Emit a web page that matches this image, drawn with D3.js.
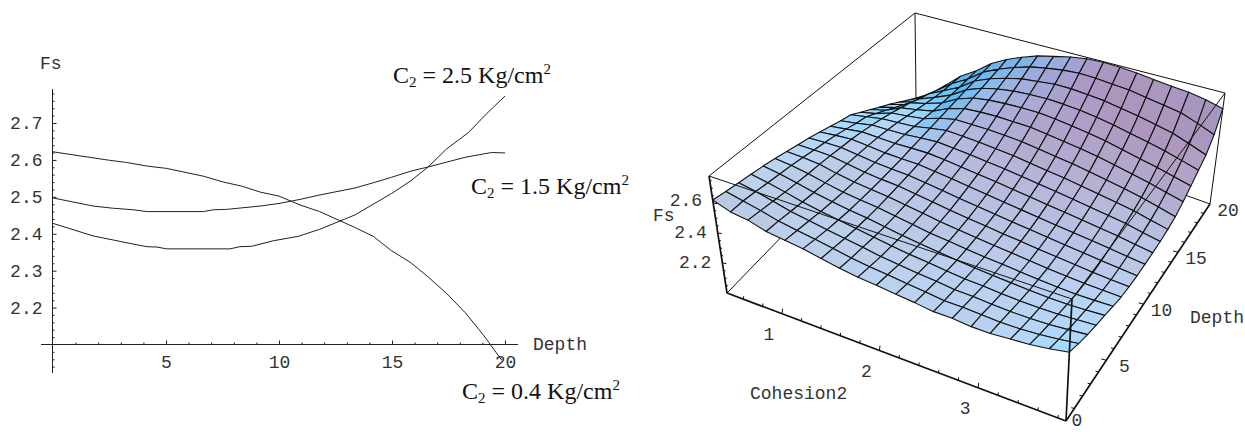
<!DOCTYPE html>
<html>
<head>
    <meta charset="utf-8">
    <title>Fs against depth and cohesion</title>
    <script src="https://cdnjs.cloudflare.com/ajax/libs/d3/7.8.5/d3.min.js"></script>
    <style>
        body { background: #fff; margin: 0; overflow: hidden; }
        svg { display: block; }
        .mono { font-family: "Liberation Mono", monospace; font-size: 18px; fill: #333; }
        .note { font-family: "Liberation Serif", serif; font-size: 24px; fill: #111; }
        .axis path, .axis line { stroke: #222; }
        .axis text { font-family: "Liberation Mono", monospace; font-size: 18px; fill: #333; }
        .curve { fill: none; stroke: #222; stroke-width: 1; }
        .cell { stroke: #111; stroke-width: 1.1; stroke-linejoin: round; }
        .edge { stroke: #111; stroke-width: 1; }
        .edge.heavy { stroke-width: 1.7; }
    </style>
</head>
<body>
<svg id="chart" width="1245" height="432"></svg>
<script>
// left plot: Fs vs depth, one curve per cohesion
const depth04 = [0, 0.75, 2.5, 3.26, 4.2, 5.03, 6.65, 7.54, 8.35, 9.16, 10, 10.93, 11.8, 13.36, 14.17, 14.98, 15.8, 16.6, 17.42, 18.23, 19.04, 19.85];
const fs04 = [2.622, 2.615, 2.599, 2.593, 2.583, 2.577, 2.556, 2.54, 2.529, 2.513, 2.502, 2.478, 2.46, 2.417, 2.393, 2.354, 2.323, 2.283, 2.238, 2.187, 2.126, 2.058];
const depth15 = [0, 1.78, 2.67, 3.55, 4.15, 6.65, 7.1, 7.68, 9.16, 10, 10.93, 11.8, 13.36, 14.17, 14.98, 15.8, 16.6, 17.42, 18.23, 19.04, 19.4, 20];
const fs15 = [2.497, 2.475, 2.469, 2.465, 2.46, 2.46, 2.465, 2.466, 2.475, 2.482, 2.493, 2.505, 2.524, 2.538, 2.553, 2.569, 2.581, 2.594, 2.607, 2.616, 2.62, 2.619];
const depth25 = [0, 1.78, 2.67, 3.55, 4.15, 4.6, 5.03, 7.83, 8.27, 8.79, 9.75, 10.85, 11.8, 13.36, 14.17, 14.98, 15.8, 16.6, 17.42, 18.38, 19.2, 20];
const fs25 = [2.428, 2.394, 2.383, 2.372, 2.365, 2.364, 2.359, 2.359, 2.365, 2.366, 2.381, 2.393, 2.412, 2.451, 2.48, 2.509, 2.542, 2.581, 2.63, 2.674, 2.726, 2.773];
const depthLabels = [5, 10, 15, 20];
const depthMinor = [1, 2, 3, 4, 6, 7, 8, 9, 11, 12, 13, 14, 16, 17, 18, 19];
const fsLabels = [2.2, 2.3, 2.4, 2.5, 2.6, 2.7];
const fsMinor = [2.04, 2.06, 2.08, 2.12, 2.14, 2.16, 2.18, 2.22, 2.24, 2.26, 2.28, 2.32, 2.34, 2.36, 2.38, 2.42, 2.44, 2.46, 2.48, 2.52, 2.54, 2.56, 2.58, 2.62, 2.64, 2.66, 2.68, 2.72, 2.74, 2.76, 2.78];

// right plot: surface samples, rows = cohesion, columns = depth
const cohesionGrid = [0.43, 0.61, 0.79, 0.97, 1.16, 1.34, 1.52, 1.70, 1.88, 2.06, 2.25, 2.43, 2.61, 2.79, 2.97, 3.15, 3.34, 3.52, 3.70, 3.88];
const depthGrid = [0, 1.05, 2.11, 3.16, 4.21, 5.26, 6.32, 7.37, 8.42, 9.47, 10.53, 11.58, 12.63, 13.68, 14.74, 15.79, 16.84, 17.89, 18.95, 20];
const fsGrid = [
    [2.62, 2.605, 2.593, 2.58, 2.567, 2.55, 2.53, 2.51, 2.49, 2.465, 2.437, 2.41, 2.386, 2.335, 2.284, 2.23, 2.18, 2.12, 2.06, 2.0],
    [2.58, 2.58, 2.572, 2.56, 2.55, 2.54, 2.525, 2.51, 2.495, 2.478, 2.455, 2.43, 2.41, 2.365, 2.32, 2.27, 2.22, 2.17, 2.13, 2.09],
    [2.565, 2.555, 2.545, 2.535, 2.527, 2.52, 2.515, 2.507, 2.497, 2.488, 2.473, 2.455, 2.435, 2.41, 2.38, 2.35, 2.31, 2.28, 2.24, 2.21],
    [2.53, 2.525, 2.515, 2.507, 2.50, 2.495, 2.49, 2.487, 2.482, 2.478, 2.47, 2.458, 2.445, 2.425, 2.405, 2.385, 2.365, 2.35, 2.34, 2.33],
    [2.515, 2.505, 2.495, 2.485, 2.478, 2.472, 2.47, 2.468, 2.467, 2.467, 2.466, 2.463, 2.455, 2.445, 2.435, 2.43, 2.425, 2.42, 2.42, 2.42],
    [2.50, 2.487, 2.475, 2.467, 2.46, 2.458, 2.457, 2.457, 2.46, 2.463, 2.47, 2.475, 2.48, 2.487, 2.493, 2.50, 2.505, 2.51, 2.515, 2.52],
    [2.478, 2.468, 2.458, 2.45, 2.447, 2.445, 2.447, 2.45, 2.455, 2.462, 2.472, 2.485, 2.50, 2.515, 2.53, 2.545, 2.555, 2.565, 2.575, 2.59],
    [2.456, 2.446, 2.44, 2.432, 2.428, 2.427, 2.43, 2.433, 2.44, 2.45, 2.462, 2.477, 2.495, 2.515, 2.54, 2.565, 2.585, 2.605, 2.625, 2.645],
    [2.44, 2.43, 2.42, 2.415, 2.41, 2.41, 2.412, 2.418, 2.425, 2.437, 2.45, 2.468, 2.49, 2.515, 2.545, 2.575, 2.605, 2.635, 2.665, 2.69],
    [2.43, 2.42, 2.408, 2.40, 2.395, 2.392, 2.395, 2.40, 2.41, 2.422, 2.437, 2.456, 2.48, 2.51, 2.542, 2.58, 2.615, 2.65, 2.69, 2.72],
    [2.417, 2.405, 2.395, 2.388, 2.382, 2.38, 2.382, 2.387, 2.396, 2.408, 2.424, 2.445, 2.47, 2.503, 2.54, 2.58, 2.62, 2.665, 2.71, 2.75],
    [2.405, 2.395, 2.385, 2.375, 2.37, 2.368, 2.37, 2.375, 2.382, 2.393, 2.41, 2.43, 2.455, 2.487, 2.525, 2.57, 2.615, 2.665, 2.72, 2.77],
    [2.39, 2.38, 2.372, 2.365, 2.36, 2.357, 2.358, 2.362, 2.37, 2.38, 2.397, 2.417, 2.44, 2.472, 2.51, 2.555, 2.605, 2.655, 2.715, 2.775],
    [2.39, 2.38, 2.37, 2.36, 2.352, 2.35, 2.349, 2.352, 2.358, 2.368, 2.383, 2.403, 2.427, 2.458, 2.495, 2.54, 2.59, 2.645, 2.705, 2.77],
    [2.38, 2.375, 2.362, 2.352, 2.345, 2.34, 2.338, 2.34, 2.346, 2.355, 2.37, 2.388, 2.41, 2.44, 2.477, 2.52, 2.57, 2.625, 2.695, 2.76],
    [2.38, 2.37, 2.358, 2.347, 2.338, 2.332, 2.328, 2.33, 2.335, 2.344, 2.356, 2.372, 2.393, 2.42, 2.455, 2.495, 2.545, 2.605, 2.675, 2.745],
    [2.39, 2.372, 2.357, 2.345, 2.334, 2.325, 2.32, 2.32, 2.324, 2.332, 2.343, 2.357, 2.375, 2.40, 2.43, 2.47, 2.52, 2.58, 2.655, 2.73],
    [2.40, 2.38, 2.362, 2.347, 2.333, 2.32, 2.313, 2.31, 2.313, 2.32, 2.33, 2.342, 2.357, 2.378, 2.408, 2.447, 2.495, 2.555, 2.635, 2.72],
    [2.417, 2.393, 2.372, 2.354, 2.338, 2.322, 2.31, 2.303, 2.303, 2.307, 2.313, 2.32, 2.333, 2.352, 2.38, 2.42, 2.465, 2.515, 2.595, 2.70],
    [2.44, 2.41, 2.383, 2.362, 2.345, 2.325, 2.307, 2.298, 2.294, 2.295, 2.297, 2.30, 2.31, 2.325, 2.355, 2.395, 2.435, 2.475, 2.55, 2.67]
];
const cohesionTicks = [1, 2, 3];
const cohesionMinor = [0.6, 0.8, 1.2, 1.4, 1.6, 1.8, 2.2, 2.4, 2.6, 2.8, 3.2, 3.4, 3.6, 3.8];
const depthTicks3d = [0, 5, 10, 15, 20];
const depthMinor3d = [1, 2, 3, 4, 6, 7, 8, 9, 11, 12, 13, 14, 16, 17, 18, 19];
const fsTicks3d = [2.2, 2.4, 2.6];
const fsMinor3d = [2.05, 2.1, 2.15, 2.25, 2.3, 2.35, 2.45, 2.5, 2.55, 2.65, 2.7, 2.75];

const svg = d3.select("#chart");

// ---- left plot ----
const x = d3.scaleLinear().domain([0, 20]).range([53, 505]);
const y = d3.scaleLinear().domain([2.1, 2.7]).range([344.5, 123]);

const axisX = svg.append("g").attr("class", "axis").attr("transform", "translate(0,344.5)");
axisX.append("line").attr("x1", 41).attr("x2", 518);
axisX.append("g").call(d3.axisTop(x).tickValues(depthLabels).tickSize(4).tickFormat("")).select(".domain").remove();
axisX.append("g").call(d3.axisTop(x).tickValues(depthMinor).tickSize(2).tickFormat("")).select(".domain").remove();
axisX.append("g").call(d3.axisBottom(x).tickValues(depthLabels).tickSize(0).tickPadding(11)).call(g => g.select(".domain").remove());

const axisY = svg.append("g").attr("class", "axis").attr("transform", "translate(52.5,0)");
axisY.append("line").attr("y1", 89).attr("y2", 373);
axisY.append("g").call(d3.axisRight(y).tickValues(fsLabels).tickSize(4).tickFormat("")).select(".domain").remove();
axisY.append("g").call(d3.axisRight(y).tickValues(fsMinor).tickSize(2).tickFormat("")).select(".domain").remove();
axisY.append("g").call(d3.axisLeft(y).tickValues(fsLabels).tickSize(0).tickPadding(10).tickFormat(d3.format(".1f"))).call(g => g.select(".domain").remove());

const line = d3.line().x(d => x(d[0])).y(d => y(d[1]));
[[depth04, fs04], [depth15, fs15], [depth25, fs25]].forEach(([ds, vs]) => {
    svg.append("path").attr("class", "curve").attr("d", line(ds.map((d, i) => [d, vs[i]])));
});

svg.append("text").attr("class", "mono").attr("x", 40).attr("y", 69).text("Fs");
svg.append("text").attr("class", "mono").attr("x", 533).attr("y", 350).text("Depth");

function note(px, py, value) {
    const t = svg.append("text").attr("class", "note").attr("x", px).attr("y", py);
    t.append("tspan").text("C");
    t.append("tspan").attr("dy", 4).style("font-size", "15px").text("2");
    t.append("tspan").attr("dy", -4).text(" = " + value + " Kg/cm");
    t.append("tspan").attr("dy", -9).style("font-size", "15px").text("2");
}
note(393, 83, "2.5");
note(471, 194, "1.5");
note(462, 399, "0.4");

// ---- right plot ----
// box corners as seen on the page, bottom and top faces: (cmin,d0) (cmax,d0) (cmax,d20) (cmin,d20)
const bottomFace = [[727, 293], [1066, 421], [1210, 204], [916, 98]];
const topFace = [[709, 176], [1072, 299], [1225, 93], [915, 13]];

function quadMap(q) {
    const [[x0, y0], [x1, y1], [x2, y2], [x3, y3]] = q;
    const dx1 = x1 - x2, dx2 = x3 - x2, sx = x0 - x1 + x2 - x3;
    const dy1 = y1 - y2, dy2 = y3 - y2, sy = y0 - y1 + y2 - y3;
    const det = dx1 * dy2 - dx2 * dy1;
    const g = (sx * dy2 - dx2 * sy) / det;
    const h = (dx1 * sy - sx * dy1) / det;
    const a = x1 - x0 + g * x1, b = x3 - x0 + h * x3;
    const d = y1 - y0 + g * y1, e = y3 - y0 + h * y3;
    return (u, v) => {
        const w = g * u + h * v + 1;
        return [(a * u + b * v + x0) / w, (d * u + e * v + y0) / w];
    };
}
const mapBottom = quadMap(bottomFace), mapTop = quadMap(topFace);

const cu = d3.scaleLinear().domain([0.43, 3.88]).range([0, 1]);
const dv = d3.scaleLinear().domain([0, 20]).range([0, 1]);
const fw = d3.scaleLinear().domain([2.0, 2.78]).range([0, 1]);

function project(u, v, w) {
    const a = mapBottom(u, v), b = mapTop(u, v);
    return [a[0] + (b[0] - a[0]) * w, a[1] + (b[1] - a[1]) * w];
}
const plot = svg.append("g");
function edge(p, q, heavy) {
    plot.append("line").attr("class", heavy ? "edge heavy" : "edge")
        .attr("x1", p[0]).attr("y1", p[1]).attr("x2", q[0]).attr("y2", q[1]);
}
const corner = (u, v, w) => project(u, v, w);

// hidden part of the box goes under the surface
edge(corner(0, 1, 0), corner(0, 1, 1));
edge(corner(0, 0, 1), corner(0, 1, 1));
edge(corner(0, 1, 1), corner(1, 1, 1));
edge(corner(0, 0, 0), corner(0, 1, 0));
edge(corner(0, 1, 0), corner(1, 1, 0));
edge(corner(1, 1, 0), corner(1, 1, 1));

// surface cells, far ones first
const viewRight = [0.92, 0.39, 0], viewUp = [-0.33, 0.56, 0.76], viewOut = [0.296, -0.70, 0.644];
const dot = (a, b) => a[0] * b[0] + a[1] * b[1] + a[2] * b[2];
const world = (i, j) => [cu(cohesionGrid[i]), dv(depthGrid[j]), 0.4 * fw(fsGrid[i][j])];
const cells = [];
d3.range(cohesionGrid.length - 1).forEach(i => d3.range(depthGrid.length - 1).forEach(j => {
    const a = world(i, j), b = world(i + 1, j), c = world(i + 1, j + 1), e = world(i, j + 1);
    const p = [c[0] - a[0], c[1] - a[1], c[2] - a[2]], q = [e[0] - b[0], e[1] - b[1], e[2] - b[2]];
    const n = [p[1] * q[2] - p[2] * q[1], p[2] * q[0] - p[0] * q[2], p[0] * q[1] - p[1] * q[0]];
    const len = Math.hypot(n[0], n[1], n[2]);
    const nx = dot(n, viewRight) / len, ny = dot(n, viewUp) / len;
    const mid = [(a[0] + c[0]) / 2, (a[1] + c[1]) / 2, (a[2] + c[2]) / 2];
    cells.push({
        pts: [a, b, c, e].map(t => project(t[0], t[1], t[2] / 0.4)),
        order: dot(mid, viewOut),
        // fitted to the face colours of the reference
        fill: d3.rgb(
            165 + 30 * ny + 170 * Math.min(nx, 0) * Math.min(1, ny * ny * 1.5) - 80 * Math.max(ny - 0.75, 0),
            Math.max(150, 115 + 40 * nx + 115 * ny),
            Math.max(190, 158 + 105 * ny)
        ).clamp().formatRgb()
    });
}));
cells.sort((a, b) => d3.ascending(a.order, b.order));
plot.selectAll("path.cell").data(cells).enter().append("path")
    .attr("class", "cell")
    .attr("fill", d => d.fill)
    .attr("d", d => "M" + d.pts.join("L") + "Z");

// front part of the box lies over the surface
edge(corner(0, 0, 1), corner(1, 0, 1));
edge(corner(1, 0, 1), corner(1, 1, 1));
edge(corner(1, 0, 0), corner(1, 0, 1), true);
edge(corner(0, 0, 0), corner(0, 0, 1), true);
edge(corner(0, 0, 0), corner(1, 0, 0), true);
edge(corner(1, 0, 0), corner(1, 1, 0), true);

// axis ticks on the heavy edges
function tick(p, dx, dy, size) {
    edge(p, [p[0] + dx * size, p[1] + dy * size]);
}
cohesionTicks.forEach(c => tick(project(cu(c), 0, 0), 0.12, -1, 5));
cohesionMinor.forEach(c => tick(project(cu(c), 0, 0), 0.12, -1, 3));
depthTicks3d.slice(1, 4).forEach(d => tick(project(1, dv(d), 0), -1, -0.25, 5));
depthMinor3d.forEach(d => tick(project(1, dv(d), 0), -1, -0.25, 3));
fsTicks3d.forEach(f => tick(project(0, 0, fw(f)), 1, 0.15, 4));
fsMinor3d.forEach(f => tick(project(0, 0, fw(f)), 1, 0.15, 2));

function label(p, dx, dy, txt, anchor) {
    svg.append("text").attr("class", "mono")
        .attr("x", p[0] + dx).attr("y", p[1] + dy + 6)
        .attr("text-anchor", anchor || "middle").text(txt);
}
cohesionTicks.forEach(c => label(project(cu(c), 0, 0), -13, 20, c));
depthTicks3d.forEach(d => label(project(1, dv(d), 0), d === 0 ? 11 : 18, d === 0 ? -1 : 6, d));
fsTicks3d.forEach(f => label(project(0, 0, fw(f)), -11, f === 2.6 ? -3 : -1, f.toFixed(1), "end"));

svg.append("text").attr("class", "mono").attr("x", 653).attr("y", 221).text("Fs");
svg.append("text").attr("class", "mono").attr("x", 750).attr("y", 399).text("Cohesion2");
svg.append("text").attr("class", "mono").attr("x", 1190).attr("y", 323).text("Depth");
</script>
</body>
</html>
